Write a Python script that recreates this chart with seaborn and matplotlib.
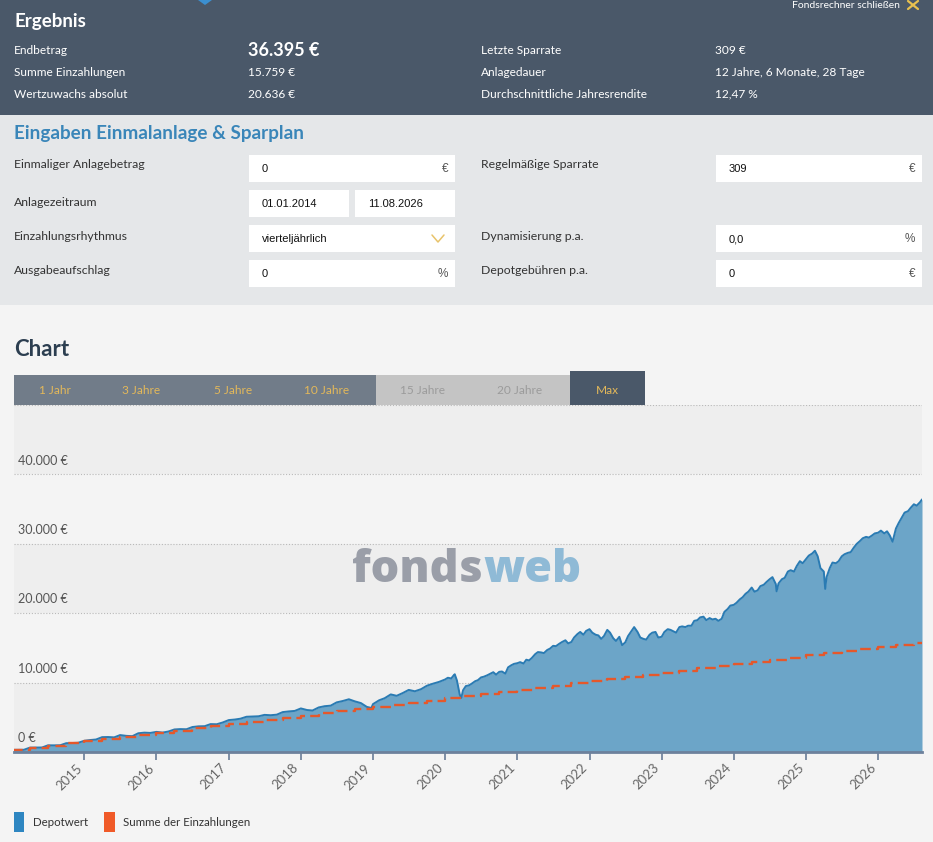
import numpy as np
import pandas as pd
import matplotlib
matplotlib.use("Agg")
import matplotlib.pyplot as plt
from matplotlib.patches import Rectangle, Polygon
import seaborn as sns

# ---------------- data ----------------
# Depotwert, monthly (1st of month) 2014-2019
depot_2014 = [309, 315, 322, 635, 645, 652, 965, 958, 975, 1265, 1300, 1330]
depot_2015 = [1620, 1730, 1800, 2140, 2160, 2110, 2440, 2330, 2280, 2700, 2790, 2750]
depot_2016 = [2900, 2800, 2950, 3250, 3300, 3280, 3600, 3700, 3720, 4020, 4000, 4250]
depot_2017 = [4600, 4680, 4800, 5080, 5120, 5150, 5350, 5300, 5380, 5750, 5850, 5920]
depot_2018 = [6280, 6050, 5980, 6420, 6600, 6680, 7150, 7350, 7600, 7300, 7050, 6500]
depot_2019 = [6900, 7450, 7750, 8300, 8100, 8500, 8950, 8750, 9050, 9550, 9850, 10100]
# Depotwert, semi-monthly (1st and 15th) 2020-2026
depot_2020 = [10450, 10700, 10600, 11100, 10300, 8300, 8900, 9500, 9600, 9850, 10200, 10350,
              10750, 10850, 11050, 11250, 11500, 11150, 11550, 11600, 11300, 12200, 12500, 12700]
depot_2021 = [12800, 12950, 12750, 13300, 13200, 13550, 14100, 14400, 14350, 14250, 14700, 14900,
              15300, 15250, 15600, 15850, 16100, 15650, 15850, 16500, 17000, 17300, 16900, 17450]
depot_2022 = [17700, 17200, 16900, 16800, 16300, 16700, 17600, 17200, 16400, 16000, 16600, 15400,
              15800, 16700, 17400, 18000, 17300, 16500, 16300, 16200, 16900, 17200, 17300, 16500]
depot_2023 = [16600, 17300, 17700, 17600, 17400, 17200, 18000, 18100, 18000, 18200, 18200, 18900,
              19000, 19400, 19500, 19000, 19300, 19100, 19200, 18900, 19200, 20200, 20600, 21100]
depot_2024 = [21200, 21500, 22000, 22300, 22800, 23100, 23700, 23100, 23300, 23900, 24100, 24500,
              24900, 25200, 24200, 24300, 24900, 25100, 26000, 26200, 26000, 26800, 27500, 27200]
depot_2025 = [27800, 28300, 28600, 29000, 28200, 26500, 26000, 25200, 26500, 27300, 27200, 27500,
              28200, 28500, 28700, 28800, 29500, 30000, 30400, 30800, 31000, 30900, 31200, 31500]
depot_2026 = [31600, 31900, 31500, 31800, 31200, 30300, 32200, 33000, 33800, 34500, 34700, 35200,
              35700, 35500, 36000]
# notable single days
event_dates = ["2018-12-24", "2020-02-19", "2020-03-23", "2024-08-05", "2025-04-08", "2026-08-11"]
event_values = [6350, 11200, 7800, 23150, 23500, 36395]

# Summe der Einzahlungen (quarterly 309 EUR, cumulative)
einzahlungen_kum = [309, 618, 927, 1236, 1545, 1854, 2163, 2472, 2781, 3090, 3399, 3708,
                    4017, 4326, 4635, 4944, 5253, 5562, 5871, 6180, 6489, 6798, 7107, 7416,
                    7725, 8034, 8343, 8652, 8961, 9270, 9579, 9888, 10197, 10506, 10815, 11124,
                    11433, 11742, 12051, 12360, 12669, 12978, 13287, 13596, 13905, 14214, 14523,
                    14832, 15141, 15450, 15759]

ytick_values = [0, 10000, 20000, 30000, 40000]
ytick_labels = ["0 €", "10.000 €", "20.000 €", "30.000 €", "40.000 €"]
year_labels = ["2015", "2016", "2017", "2018", "2019", "2020", "2021", "2022",
               "2023", "2024", "2025", "2026"]
tab_labels = ["1 Jahr", "3 Jahre", "5 Jahre", "10 Jahre", "15 Jahre", "20 Jahre", "Max"]

# ---------------- build frames ----------------
early_dates = pd.date_range("2014-01-01", "2019-12-01", freq="MS")
late_dates = pd.date_range("2020-01-01", "2026-08-01", freq="SMS")
early_vals = depot_2014 + depot_2015 + depot_2016 + depot_2017 + depot_2018 + depot_2019
late_vals = depot_2020 + depot_2021 + depot_2022 + depot_2023 + depot_2024 + depot_2025 + depot_2026
depot = pd.DataFrame({
    "date": list(early_dates) + list(late_dates) + list(pd.to_datetime(event_dates)),
    "wert": early_vals + late_vals + event_values,
}).sort_values("date").reset_index(drop=True)

pay_dates = list(pd.date_range("2014-01-01", periods=len(einzahlungen_kum), freq="QS"))
einz = pd.DataFrame({
    "date": pay_dates + [pd.Timestamp("2026-08-11")],
    "summe": einzahlungen_kum + [einzahlungen_kum[-1]],
})

# ---------------- style ----------------
sns.set_theme(style="white")
plt.rcParams["font.family"] = ["Lato", "DejaVu Sans"]

W, H = 933, 842
fig = plt.figure(figsize=(W / 100, H / 100), dpi=100)

ui = fig.add_axes([0, 0, 1, 1], zorder=0)
ui.set_xlim(0, W)
ui.set_ylim(H, 0)
ui.axis("off")

def rect(x0, y0, x1, y1, color, z=1):
    ui.add_patch(Rectangle((x0, y0), x1 - x0, y1 - y0, facecolor=color, edgecolor="none", zorder=z))

# backgrounds
rect(0, 0, W, 115, "#4a5869")
rect(0, 115, W, 305, "#e5e7e9")
rect(0, 305, W, H, "#f4f4f4")

# header
ui.add_patch(Polygon([(198, 0), (212, 0), (205, 5)], closed=True, facecolor="#3b8fd0", edgecolor="none", zorder=2))
ui.text(900, 5.5, "Fondsrechner schließen", color="white", fontsize=7.5, ha="right", va="center", zorder=3)
ui.plot([908, 918], [1, 9], color="#e8c14f", lw=1.6, zorder=3)
ui.plot([918, 908], [1, 9], color="#e8c14f", lw=1.6, zorder=3)
ui.text(14, 22, "Ergebnis", color="white", fontsize=13.5, fontweight="bold", va="center", zorder=3)
hdr_rows = [51, 73, 94]
hdr_left = ["Endbetrag", "Summe Einzahlungen", "Wertzuwachs absolut"]
hdr_left_val = ["36.395 €", "15.759 €", "20.636 €"]
hdr_right = ["Letzte Sparrate", "Anlagedauer", "Durchschnittliche Jahresrendite"]
hdr_right_val = ["309 €", "12 Jahre, 6 Monate, 28 Tage", "12,47 %"]
for i, yy in enumerate(hdr_rows):
    ui.text(14, yy, hdr_left[i], color="white", fontsize=8.6, va="center", zorder=3)
    if i == 0:
        ui.text(248, yy, hdr_left_val[i], color="white", fontsize=13, fontweight="bold", va="center", zorder=3)
    else:
        ui.text(248, yy, hdr_left_val[i], color="white", fontsize=8.6, va="center", zorder=3)
    ui.text(481, yy, hdr_right[i], color="white", fontsize=8.6, va="center", zorder=3)
    ui.text(715, yy, hdr_right_val[i], color="white", fontsize=8.6, va="center", zorder=3)

# input panel
ui.text(14, 134, "Eingaben Einmalanlage & Sparplan", color="#3a86b9", fontsize=13.6,
        fontweight="bold", va="center", zorder=3)
lab_rows = [165, 202, 237, 271]
left_labels = ["Einmaliger Anlagebetrag", "Anlagezeitraum", "Einzahlungsrhythmus", "Ausgabeaufschlag"]
for yy, s in zip(lab_rows, left_labels):
    ui.text(14, yy, s, color="#333333", fontsize=8.8, va="center", zorder=3)
right_labels = {165: "Regelmäßige Sparrate", 237: "Dynamisierung p.a.", 271: "Depotgebühren p.a."}
for yy, s in right_labels.items():
    ui.text(481, yy, s, color="#333333", fontsize=8.8, va="center", zorder=3)

boxfont = ["Liberation Sans", "DejaVu Sans"]
boxes = [
    (249, 155, 455, 182, "0", "€"),
    (249, 190, 349, 217, "01.01.2014", ""),
    (355, 190, 455, 217, "11.08.2026", ""),
    (249, 225, 455, 252, "vierteljährlich", ""),
    (249, 260, 455, 287, "0", "%"),
    (716, 155, 922, 182, "309", "€"),
    (716, 225, 922, 252, "0,0", "%"),
    (716, 260, 922, 287, "0", "€"),
]
for x0, y0, x1, y1, val, unit in boxes:
    rect(x0, y0, x1, y1, "white", z=2)
    ui.text(x0 + 13, (y0 + y1) / 2 + 0.5, val, color="#111111", fontsize=8, va="center",
            family=boxfont, zorder=3)
    if unit:
        ui.text(x1 - 7, (y0 + y1) / 2 + 0.5, unit, color="#555555", fontsize=8.5, va="center",
                ha="right", family=boxfont, zorder=3)
ui.plot([432, 438, 444], [235, 242, 235], color="#e8c36a", lw=1.1, zorder=3)

# chart section
ui.text(14, 349, "Chart", color="#2c3e50", fontsize=16, fontweight="bold", va="center", zorder=3)
rect(14, 375, 376, 405, "#717c89", z=2)
rect(376, 375, 570, 405, "#c4c4c4", z=2)
rect(570, 371, 645, 405, "#4a5869", z=2)
tab_x = [55, 141, 233, 327, 423, 520, 607]
tab_col = ["#e3b85a"] * 4 + ["#9b9b9b"] * 2 + ["#e3b85a"]
for tx, s, c in zip(tab_x, tab_labels, tab_col):
    ui.text(tx, 390, s, color=c, fontsize=8.6, ha="center", va="center", zorder=3)

# legend
rect(14, 812, 24, 832, "#2e86c1", z=2)
ui.text(33, 822, "Depotwert", color="#333333", fontsize=8.3, va="center", zorder=3)
rect(104, 812, 115, 832, "#f05a28", z=2)
ui.text(123, 822, "Summe der Einzahlungen", color="#333333", fontsize=8.3, va="center", zorder=3)

# ---------------- chart axes ----------------
ax = fig.add_axes([14 / W, 90 / H, 908 / W, 347 / H], zorder=2)
ax.set_facecolor("none")
x_start, x_end = pd.Timestamp("2014-01-10"), pd.Timestamp("2026-08-11")
ax.set_xlim(x_start, x_end)
ax.set_ylim(0, 50000)

# alternating bands
for lo in [0, 20000, 40000]:
    ax.axhspan(lo, lo + 10000, color="#eeeeee", zorder=0, lw=0)
for v in [10000, 20000, 30000, 40000, 50000]:
    ax.axhline(v, color="#b9b9b9", lw=0.8, ls=(0, (1, 1.6)), zorder=1)

# watermark
wm_font = ["Open Sans", "DejaVu Sans"]
ax.text(483, 570, "fonds", transform=ui.transData, color="#9a9ea8", fontsize=32.5,
        fontweight="heavy", family=wm_font, ha="right", va="center", zorder=1.5)
ax.text(483, 570, "web", transform=ui.transData, color="#8fbad6", fontsize=32.5,
        fontweight="heavy", family=wm_font, ha="left", va="center", zorder=1.5)

ax.fill_between(depot["date"], depot["wert"], 0, color="#6ca5c8", lw=0, zorder=2)
sns.lineplot(data=depot, x="date", y="wert", ax=ax, color="#2a7bb3", lw=1.4, zorder=3,
             legend=False, estimator=None)
sns.lineplot(data=einz, x="date", y="summe", ax=ax, color="#e5582b", lw=1.7, zorder=4,
             drawstyle="steps-post", linestyle=(0, (4.5, 2.2)), legend=False, estimator=None)

# y labels inside the plot
for v, s in zip(ytick_values, ytick_labels):
    ax.annotate(s, xy=(0, v), xycoords=("axes fraction", "data"), xytext=(3, 10),
                textcoords="offset points", fontsize=9, color="#555555", va="center",
                ha="left", zorder=5)

ax.set_yticks([])
ax.set_xticks([pd.Timestamp(f"{y}-01-01") for y in year_labels])
ax.set_xticklabels(year_labels, rotation=45, ha="right", rotation_mode="default")
ax.tick_params(axis="x", length=5.5, width=1.4, color="#7d8ea5", labelsize=9.5,
               labelcolor="#666666", pad=1.5, bottom=True)
for side in ["top", "left", "right"]:
    ax.spines[side].set_visible(False)
ax.spines["bottom"].set_color("#6d819c")
ax.spines["bottom"].set_linewidth(2)
ax.spines["bottom"].set_zorder(6)
ax.set_xlabel("")
ax.set_ylabel("")

fig.savefig("out.png", dpi=100)
